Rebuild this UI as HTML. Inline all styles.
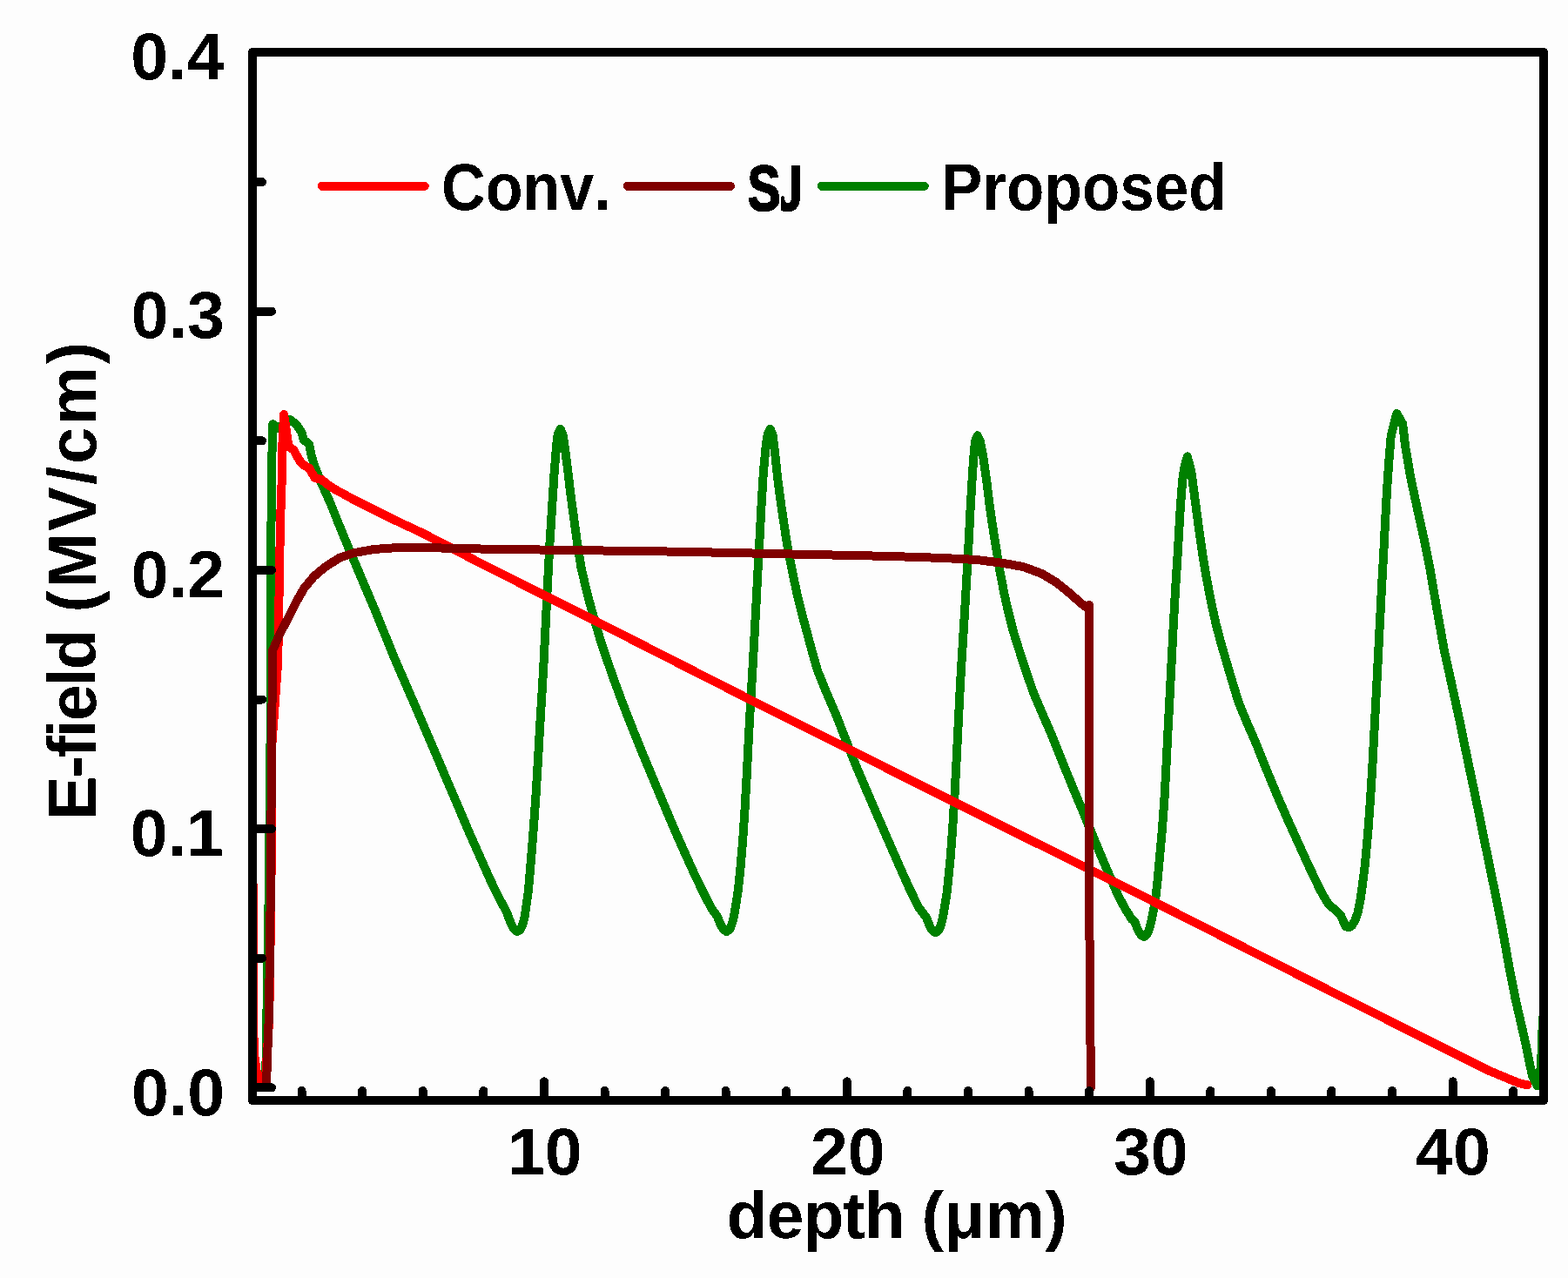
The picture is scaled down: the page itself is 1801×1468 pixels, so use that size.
<!DOCTYPE html>
<html lang="en"><head><meta charset="utf-8"><title>E-field vs depth</title>
<style>
html,body{margin:0;padding:0;background:#fdfdfd;}
body{width:1801px;height:1468px;overflow:hidden;}
svg{display:block;}
text{font-family:"Liberation Sans",sans-serif;font-weight:700;font-size:100px;fill:#000;font-kerning:none;}
.s{fill:none;stroke-width:10;stroke-linejoin:round;stroke-linecap:round;}
</style></head>
<body>
<svg width="1801" height="1468" viewBox="0 0 1801 1468">
<defs><filter id="crisp" filterUnits="userSpaceOnUse" x="0" y="0" width="1801" height="1468" color-interpolation-filters="sRGB"><feComponentTransfer><feFuncA type="discrete" tableValues="0 1"/></feComponentTransfer></filter><clipPath id="jclip"><polygon points="-10.0,-90.0 32.1,-90.0 32.1,-75.0 32.1,-72.0 52.5,-69.0 57.1,-66.0 59.7,-63.0 61.3,-60.0 62.4,-57.0 63.0,-54.0 63.0,-51.0 24.5,-48.0 31.0,-45.0 43.8,-42.0 53.5,-39.0 58.6,-36.0 61.5,-33.0 63.2,-30.0 64.2,-27.0 64.7,-24.0 64.8,-21.0 64.8,-18.0 64.6,-15.0 64.1,-12.0 63.0,-9.0 61.1,-6.0 58.1,-3.0 53.0,0.0 32.1,3.0 32.1,6.0 32.1,20.0 -10.0,20.0"/><rect x="67.81" y="-54.5" width="48.95" height="70"/><rect x="89.48" y="-90" width="27.38" height="36"/></clipPath></defs>
<rect x="0" y="0" width="1801" height="1468" fill="#fdfdfd"/>
<g class="s" id="series" shape-rendering="crispEdges">
<polyline id="proposed" stroke="#008000" points="305.0,1243.0 305.3,1231.0 307.5,1100.0 309.0,1010.0 310.5,855.0 311.3,760.0 311.5,600.0 312.0,540.0 313.3,487.2 318.9,491.7 333.3,482.0 340.5,487.8 346.6,496.7 348.9,505.5 355.0,510.0 357.2,521.0 360.5,533.3 369.4,555.5 379.4,577.7 388.3,600.0 399.7,627.7 406.9,644.5 418.5,672.1 429.4,697.7 439.9,723.5 453.3,756.6 481.7,822.0 511.9,892.8 540.4,959.7 563.9,1012.4 573.0,1031.0 582.3,1048.3 583.6,1052.3 586.4,1059.5 588.8,1064.7 591.4,1068.3 594.3,1070.0 597.7,1067.8 600.0,1062.8 601.9,1056.4 603.4,1049.2 603.5,1047.3 606.8,1024.0 608.9,1000.0 611.8,964.6 615.3,917.0 618.2,869.2 620.2,833.5 622.4,797.7 624.6,760.0 628.8,674.6 631.5,623.5 634.1,582.6 636.7,541.8 639.2,511.0 640.6,499.5 643.6,492.6 646.6,499.5 648.4,511.0 652.4,541.9 655.2,566.2 658.8,592.9 663.0,623.5 667.5,652.0 674.3,680.9 680.8,705.2 689.2,733.8 694.5,750.1 704.3,778.4 715.8,809.6 727.9,840.5 739.6,869.2 751.5,897.8 763.5,926.4 775.6,954.9 787.3,981.3 799.2,1007.5 809.5,1028.6 817.4,1043.8 823.8,1052.3 826.6,1059.5 829.0,1064.7 831.6,1068.3 834.5,1070.0 837.9,1067.8 840.2,1062.8 842.1,1056.4 843.6,1049.2 847.6,1024.2 850.2,1000.4 853.2,964.6 855.6,928.8 857.6,893.1 860.0,845.4 862.0,809.6 864.9,760.0 867.9,705.3 870.0,664.4 872.3,623.5 874.4,582.6 876.9,541.8 880.0,509.1 881.6,499.5 884.7,492.7 887.6,499.5 890.2,521.3 893.5,552.0 897.0,578.5 900.1,599.1 903.1,619.3 906.7,639.9 910.8,660.3 916.1,684.8 921.1,705.3 927.3,727.8 933.2,750.1 939.3,771.0 948.7,794.2 960.5,821.7 972.5,852.4 983.8,880.9 995.5,908.5 1008.4,938.3 1019.9,964.7 1032.3,993.1 1044.0,1019.4 1055.5,1042.9 1063.8,1053.5 1066.6,1060.7 1069.0,1065.9 1071.6,1069.5 1074.5,1071.2 1077.9,1069.0 1080.2,1064.0 1082.1,1057.6 1083.6,1050.4 1087.8,1024.2 1091.4,988.4 1094.1,952.7 1096.3,916.9 1098.8,869.2 1100.6,833.5 1103.0,785.8 1104.7,757.0 1107.9,705.3 1110.3,664.4 1112.6,623.5 1114.7,582.6 1117.1,541.8 1119.1,516.0 1120.0,507.0 1122.8,500.3 1125.8,507.0 1128.8,521.4 1133.2,552.0 1136.9,582.5 1139.6,601.0 1142.5,619.4 1148.1,654.1 1153.2,680.7 1157.8,701.3 1163.9,725.5 1171.6,750.0 1179.5,774.0 1187.5,797.1 1196.1,817.1 1206.9,841.8 1218.8,871.6 1230.9,901.3 1243.4,931.2 1255.2,959.9 1262.9,978.7 1274.1,1005.2 1284.4,1028.8 1291.8,1042.8 1299.8,1055.8 1303.1,1058.3 1305.9,1065.5 1308.3,1070.7 1310.9,1074.3 1313.8,1076.0 1317.2,1073.8 1319.5,1068.8 1321.4,1062.4 1322.9,1055.2 1326.8,1035.9 1329.5,1012.3 1332.1,983.7 1334.9,952.7 1337.5,916.9 1339.4,881.1 1341.2,845.4 1343.1,809.6 1345.6,761.0 1347.9,715.5 1350.2,674.6 1352.2,644.0 1354.0,613.3 1355.8,582.6 1358.2,552.1 1360.2,537.7 1363.8,524.4 1368.3,541.8 1372.4,572.4 1376.5,603.1 1380.8,633.8 1385.9,664.4 1390.9,691.0 1396.3,715.4 1403.3,742.0 1405.7,750.0 1413.4,776.4 1422.4,806.0 1430.8,826.6 1443.1,855.0 1455.4,885.8 1467.3,914.5 1479.2,941.8 1490.6,967.0 1502.5,993.2 1514.9,1019.2 1519.9,1029.0 1526.4,1039.0 1534.2,1045.7 1540.0,1051.6 1543.1,1058.8 1545.9,1064.3 1549.0,1065.3 1552.6,1063.5 1556.2,1057.6 1559.3,1049.2 1562.1,1036.1 1564.5,1019.4 1567.9,993.2 1571.5,952.7 1574.1,916.9 1576.3,881.1 1578.8,833.5 1581.3,785.8 1582.9,755.0 1584.9,715.5 1587.0,674.6 1589.3,633.8 1591.4,592.9 1593.1,562.2 1595.2,531.5 1597.7,500.9 1604.3,474.9 1611.2,487.0 1614.0,511.9 1620.1,547.8 1627.8,583.9 1635.8,619.9 1642.2,651.5 1649.0,691.8 1658.5,745.5 1667.5,786.5 1676.3,826.8 1685.5,871.7 1695.0,916.7 1704.2,961.7 1713.4,1006.7 1720.3,1040.0 1726.8,1073.6 1733.3,1110.3 1740.5,1147.0 1746.9,1174.8 1752.3,1198.7 1756.7,1220.6 1760.0,1235.4 1765.5,1247.0 1770.0,1225.0 1772.0,1169.0"/>
<polyline id="conv" stroke="#ff0000" points="291.0,1017.0 291.2,1180.0 292.0,1210.0 295.0,1233.0 298.0,1245.0 303.0,1246.0 305.6,1231.0 309.2,1170.0 310.7,1075.0 311.5,1010.0 312.4,855.0 319.2,760.0 322.0,600.0 323.6,554.4 324.4,510.0 326.1,476.1 331.6,513.3 337.2,516.6 343.9,528.8 348.3,533.8 355.0,537.7 361.6,548.8 369.4,551.0 379.4,558.8 385.0,562.2 407.2,574.4 429.4,585.5 451.6,596.6 485.0,612.2 560.0,651.1 682.6,712.6 861.2,803.5 1096.4,921.5 1300.0,1023.0 1453.0,1100.5 1600.0,1174.7 1655.2,1202.3 1710.3,1229.9 1743.4,1243.7 1754.5,1246.4"/>
<polyline id="sj" stroke="#800000" points="306.0,1249.0 306.5,1231.0 309.0,1163.0 311.0,1010.0 312.0,855.0 313.0,763.0 313.3,746.6 321.6,727.7 331.6,708.8 340.5,691.0 349.4,675.5 360.5,662.2 373.8,651.0 390.5,640.5 407.2,635.0 429.4,631.0 451.6,629.4 485.0,629.0 560.0,630.7 780.0,633.7 1020.0,638.9 1081.3,640.9 1122.2,643.0 1152.9,647.0 1175.4,651.1 1196.3,658.8 1212.7,668.6 1229.0,681.7 1241.3,692.7 1246.4,696.8 1251.0,694.9 1251.5,1080.0 1252.5,1200.0 1253.0,1249.0"/>
</g>
<g class="s" stroke="#000" id="axes" shape-rendering="crispEdges">
<line x1="346.6" y1="1264" x2="346.6" y2="1253.0"/>
<line x1="416.2" y1="1264" x2="416.2" y2="1253.0"/>
<line x1="485.7" y1="1264" x2="485.7" y2="1253.0"/>
<line x1="555.3" y1="1264" x2="555.3" y2="1253.0"/>
<line x1="624.9" y1="1264" x2="624.9" y2="1242.3"/>
<line x1="694.5" y1="1264" x2="694.5" y2="1253.0"/>
<line x1="764.1" y1="1264" x2="764.1" y2="1253.0"/>
<line x1="833.6" y1="1264" x2="833.6" y2="1253.0"/>
<line x1="903.2" y1="1264" x2="903.2" y2="1253.0"/>
<line x1="972.8" y1="1264" x2="972.8" y2="1242.3"/>
<line x1="1042.4" y1="1264" x2="1042.4" y2="1253.0"/>
<line x1="1112.0" y1="1264" x2="1112.0" y2="1253.0"/>
<line x1="1181.5" y1="1264" x2="1181.5" y2="1253.0"/>
<line x1="1251.1" y1="1264" x2="1251.1" y2="1253.0"/>
<line x1="1320.7" y1="1264" x2="1320.7" y2="1242.3"/>
<line x1="1390.3" y1="1264" x2="1390.3" y2="1253.0"/>
<line x1="1459.9" y1="1264" x2="1459.9" y2="1253.0"/>
<line x1="1529.4" y1="1264" x2="1529.4" y2="1253.0"/>
<line x1="1599.0" y1="1264" x2="1599.0" y2="1253.0"/>
<line x1="1668.6" y1="1264" x2="1668.6" y2="1242.3"/>
<line x1="1738.2" y1="1264" x2="1738.2" y2="1253.0"/>
<line x1="290" y1="1249.3" x2="312.0" y2="1249.3"/>
<line x1="290" y1="1100.7" x2="301.0" y2="1100.7"/>
<line x1="290" y1="952.1" x2="312.0" y2="952.1"/>
<line x1="290" y1="803.5" x2="301.0" y2="803.5"/>
<line x1="290" y1="654.9" x2="312.0" y2="654.9"/>
<line x1="290" y1="506.3" x2="301.0" y2="506.3"/>
<line x1="290" y1="357.7" x2="312.0" y2="357.7"/>
<line x1="290" y1="209.1" x2="301.0" y2="209.1"/>
<rect x="290" y="60" width="1483" height="1204"/>
</g>
<g class="s" id="legend-lines" shape-rendering="crispEdges">
<line x1="369.8" y1="213.8" x2="487.8" y2="213.8" stroke="#ff0000"/>
<line x1="720.9" y1="213.8" x2="839" y2="213.8" stroke="#800000"/>
<line x1="943.8" y1="213.8" x2="1061.8" y2="213.8" stroke="#008000"/>
</g>
<g id="labels" filter="url(#crisp)">
<text id="y04" transform="translate(150.20,91.20) scale(0.7700,0.7620)">0.4</text>
<text id="y03" transform="translate(150.70,387.70) scale(0.7700,0.7620)">0.3</text>
<text id="y02" transform="translate(150.70,686.00) scale(0.7700,0.7620)">0.2</text>
<text id="y01" transform="translate(149.70,982.70) scale(0.7700,0.7620)">0.1</text>
<text id="y00" transform="translate(151.10,1280.80) scale(0.7700,0.7620)">0.0</text>
<text id="x10" transform="translate(582.90,1348.60) scale(0.7700,0.7620)">10</text>
<text id="x20" transform="translate(930.90,1348.60) scale(0.7700,0.7620)">20</text>
<text id="x30" transform="translate(1278.90,1348.60) scale(0.7700,0.7620)">30</text>
<text id="x40" transform="translate(1626.10,1348.60) scale(0.7700,0.7620)">40</text>
<text id="l1" transform="translate(507.06,241.20) scale(0.7006,0.7600)">Conv.</text>
<text id="l2" transform="translate(858.74,241.80) scale(0.5634,0.7480)" stroke="#000" stroke-width="3.0" stroke-linejoin="round" dx="0.00 -9.84" clip-path="url(#jclip)">SJ</text>
<text id="l3" transform="translate(1081.07,241.20) scale(0.7106,0.7600)">Proposed</text>
<text id="yt" transform="translate(110.10,941.97) rotate(-90) scale(0.7580,0.7730)" dx="0.00 -2.76 -2.76 -2.76 -2.76 -2.76 -2.76 0.00 -2.15 3.42 3.42 3.42 3.42 3.42 3.42">E-field (MV/cm)</text>
<text id="xt" transform="translate(834.86,1421.50) scale(0.7660,0.7550)" dx="0.00 -1.20 -1.20 -1.20 -1.20 0.00 -3.06 0.45 0.45 0.45">depth (μm)</text>
</g>
</svg>
</body></html>
